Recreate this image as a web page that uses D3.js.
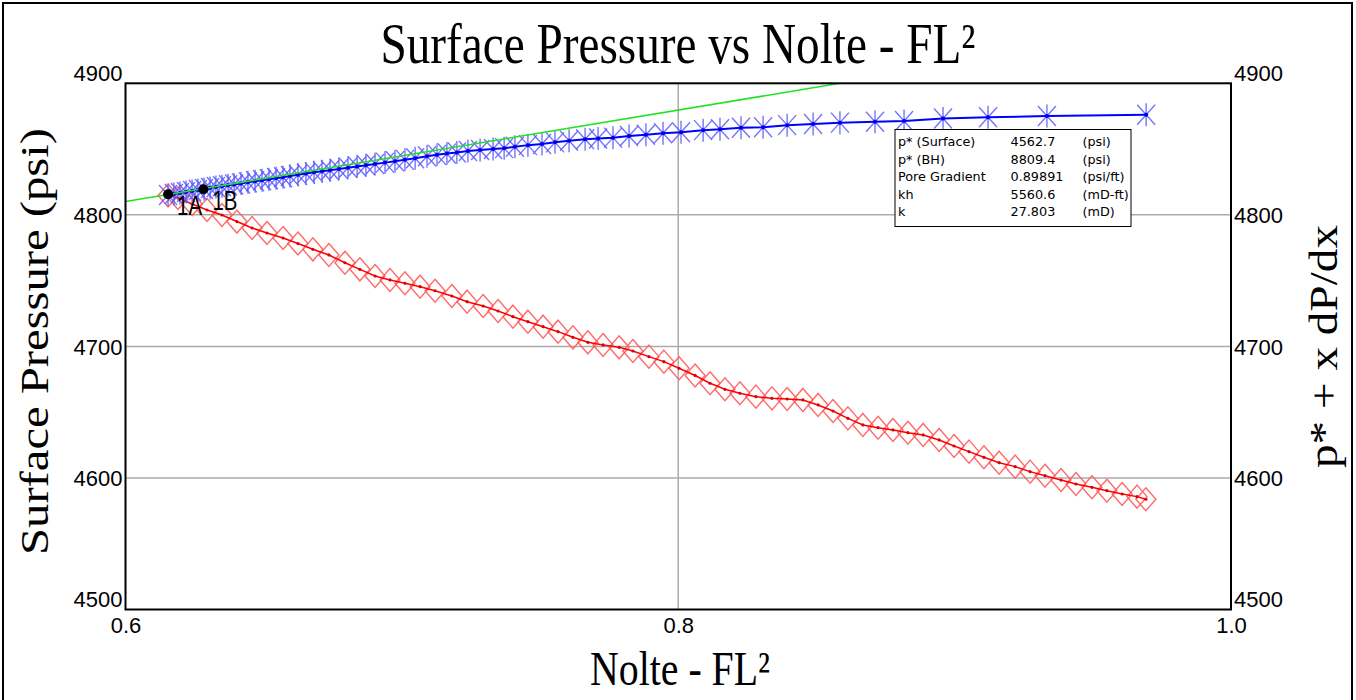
<!DOCTYPE html>
<html><head><meta charset="utf-8">
<script src="https://cdn.jsdelivr.net/npm/d3@7"></script>
<style>
html,body{margin:0;padding:0;background:#fff;}
svg{display:block;}
</style></head>
<body>
<svg id="chart" width="1356" height="700"></svg>
<script>
// ---- data ----
const xTicks = [0.6, 0.8, 1.0];
const xTickLabels = ["0.6", "0.8", "1.0"];
const yTicks = [4500, 4600, 4700, 4800, 4900];
const yTickLabels = ["4500", "4600", "4700", "4800", "4900"];
const gridX = [0.8];
const gridY = [4600, 4700, 4800];

// Surface pressure vs Nolte FL^2 (red diamonds, left axis)
const surfX = [0.6154,0.6190,0.6241,0.6295,0.6349,0.6403,0.6458,0.6512,0.6570,0.6624,0.6678,0.6736,0.6794,0.6848,0.6903,0.6957,0.7011,0.7066,0.7120,0.7181,0.7236,0.7294,0.7348,0.7402,0.7456,0.7511,0.7565,0.7619,0.7673,0.7728,0.7786,0.7836,0.7894,0.7948,0.8003,0.8061,0.8115,0.8169,0.8223,0.8281,0.8339,0.8394,0.8451,0.8506,0.8560,0.8614,0.8668,0.8723,0.8777,0.8831,0.8886,0.8944,0.8998,0.9052,0.9106,0.9161,0.9219,0.9273,0.9327,0.9385,0.9439,0.9497,0.9551,0.9606,0.9660,0.9692];
const surfP = [4814.7,4812.8,4808.2,4803.7,4799.9,4794.9,4790.0,4786.2,4782.4,4778.2,4773.8,4769.5,4763.6,4758.6,4753.5,4750.5,4748.0,4745.4,4742.3,4738.3,4734.0,4730.7,4726.9,4722.6,4718.8,4715.0,4711.2,4706.9,4703.1,4701.1,4699.3,4696.5,4692.2,4688.4,4683.4,4677.9,4672.0,4667.4,4664.4,4661.8,4660.5,4660.0,4659.3,4655.5,4650.9,4645.3,4640.3,4638.2,4636.5,4634.4,4632.7,4628.9,4624.3,4620.0,4615.7,4611.6,4608.6,4604.8,4601.7,4598.4,4595.4,4592.9,4590.3,4587.8,4585.8,4583.8];

// p* + x dP/dx (blue stars, right axis)
const derivX = [0.6154,0.6175,0.6197,0.6219,0.6241,0.6262,0.6284,0.6306,0.6327,0.6349,0.6371,0.6393,0.6418,0.6443,0.6469,0.6494,0.6519,0.6545,0.6570,0.6595,0.6624,0.6653,0.6682,0.6711,0.6740,0.6772,0.6805,0.6838,0.6870,0.6903,0.6939,0.6975,0.7011,0.7048,0.7091,0.7127,0.7163,0.7199,0.7239,0.7283,0.7330,0.7370,0.7409,0.7456,0.7507,0.7554,0.7605,0.7663,0.7710,0.7764,0.7822,0.7883,0.7945,0.8010,0.8090,0.8151,0.8227,0.8307,0.8394,0.8488,0.8585,0.8712,0.8817,0.8958,0.9121,0.9334,0.9693];
const derivP = [4815.1,4815.9,4816.6,4817.4,4818.1,4818.9,4819.7,4820.4,4821.2,4821.8,4822.5,4823.1,4823.9,4824.7,4825.6,4826.3,4827.1,4827.9,4828.6,4829.5,4830.4,4831.4,4832.3,4833.1,4833.9,4834.9,4835.8,4836.7,4837.7,4838.7,4839.7,4840.8,4841.8,4843.0,4844.6,4845.6,4846.7,4847.4,4848.5,4849.3,4850.1,4850.7,4851.7,4853.0,4853.9,4855.1,4856.3,4857.4,4858.0,4858.7,4859.9,4860.9,4862.0,4862.8,4864.4,4865.0,4866.2,4866.6,4868.2,4869.1,4870.1,4870.8,4871.3,4873.2,4874.2,4875.1,4876.1];

// straight-line fit (green)
const fitX = [0.6, 0.8585];
const fitP = [4810.1, 4900];

// selected points
const pointNames = ["1A", "1B"];
const pointX = [0.6154, 0.6282];
const pointP = [4815.6, 4819.4];

// results box
const resLabels = ["p* (Surface)", "p* (BH)", "Pore Gradient", "kh", "k"];
const resValues = ["4562.7", "8809.4", "0.89891", "5560.6", "27.803"];
const resUnits = ["(psi)", "(psi)", "(psi/ft)", "(mD-ft)", "(mD)"];

// ---- layout ----
const svg = d3.select("#chart");
const L = 125.5, R = 1231, T = 83.3, B = 609.5;
const x = d3.scaleLinear().domain([0.6, 1.0]).range([L, R]);
const y = d3.scaleLinear().domain([4500, 4900]).range([B, T]);
const y2 = d3.scaleLinear().domain([4500, 4900]).range([B, T]);

// outer border
svg.append("path").attr("d", "M3,705 L3,3 L1352,3 L1352,705")
  .attr("fill", "none").attr("stroke", "#000").attr("stroke-width", 2);

// clip
svg.append("clipPath").attr("id", "clip").append("rect")
  .attr("x", L).attr("y", T).attr("width", R - L).attr("height", B - T);

// grid
const g = svg.append("g");
g.selectAll(".gx").data(gridX).enter().append("line")
  .attr("x1", d => x(d)).attr("x2", d => x(d)).attr("y1", T).attr("y2", B)
  .attr("stroke", "#ababab").attr("stroke-width", 1.5);
g.selectAll(".gy").data(gridY).enter().append("line")
  .attr("x1", L).attr("x2", R).attr("y1", d => y(d)).attr("y2", d => y(d))
  .attr("stroke", "#ababab").attr("stroke-width", 1.5);

const plot = svg.append("g").attr("clip-path", "url(#clip)");

// red series
const surf = surfX.map((v, i) => [v, surfP[i]]);
plot.selectAll(".dia").data(surf).enter().append("path")
  .attr("d", d => {
    const cx = x(d[0]), cy = y(d[1]);
    return `M${cx},${cy - 11.5}L${cx + 10},${cy}L${cx},${cy + 11.5}L${cx - 10},${cy}Z`;
  })
  .attr("fill", "none").attr("stroke", "#ff5a5a").attr("stroke-width", 1.4).attr("stroke-opacity", 0.9);
plot.append("path").datum(surf)
  .attr("d", d3.line().x(d => x(d[0])).y(d => y(d[1])))
  .attr("fill", "none").attr("stroke", "#ff0000").attr("stroke-width", 1.5);
plot.selectAll(".rdot").data(surf).enter().append("circle")
  .attr("cx", d => x(d[0])).attr("cy", d => y(d[1])).attr("r", 1.6).attr("fill", "#e00000");

// blue series
const deriv = derivX.map((v, i) => [v, derivP[i]]);
plot.selectAll(".star").data(deriv).enter().append("path")
  .attr("d", d => {
    const cx = x(d[0]), cy = y2(d[1]);
    return `M${cx},${cy - 11.5}L${cx},${cy + 11.5}` +
           `M${cx - 9},${cy - 10}L${cx + 9},${cy + 10}` +
           `M${cx - 9},${cy + 10}L${cx + 9},${cy - 10}`;
  })
  .attr("fill", "none").attr("stroke", "#5c5cff").attr("stroke-width", 1.4).attr("stroke-opacity", 0.85);
plot.append("path").datum(deriv)
  .attr("d", d3.line().x(d => x(d[0])).y(d => y2(d[1])))
  .attr("fill", "none").attr("stroke", "#0000ff").attr("stroke-width", 2);
plot.selectAll(".bdot").data(deriv).enter().append("circle")
  .attr("cx", d => x(d[0])).attr("cy", d => y2(d[1])).attr("r", 2).attr("fill", "#0000e0");

// green fit line
const fit = fitX.map((v, i) => [v, fitP[i]]);
plot.append("path").datum(fit)
  .attr("d", d3.line().x(d => x(d[0])).y(d => y(d[1])))
  .attr("fill", "none").attr("stroke", "#22e022").attr("stroke-width", 1.5);

// selected points
const pts = pointX.map((v, i) => ({x: v, p: pointP[i], n: pointNames[i]}));
svg.selectAll(".pt").data(pts).enter().append("circle")
  .attr("cx", d => x(d.x)).attr("cy", d => y(d.p)).attr("r", 5).attr("fill", "#000");
svg.selectAll(".ptl").data(pts).enter().append("text")
  .attr("x", d => x(d.x) + 9).attr("y", d => y(d.p) + 21)
  .attr("font-family", "'Liberation Sans', Arial, sans-serif").attr("font-size", 27)
  .attr("textLength", 25).attr("lengthAdjust", "spacingAndGlyphs")
  .attr("fill", "#000").text(d => d.n);

// frame
svg.append("rect").attr("x", L).attr("y", T).attr("width", R - L).attr("height", B - T)
  .attr("fill", "none").attr("stroke", "#000").attr("stroke-width", 2);

// axes
const tickFont = "'Liberation Sans', Arial, sans-serif";
const axL = svg.append("g").attr("transform", `translate(${L},0)`)
  .call(d3.axisLeft(y).tickValues(yTicks).tickFormat((d, i) => yTickLabels[i]).tickSize(0).tickPadding(3));
const axR = svg.append("g").attr("transform", `translate(${R},0)`)
  .call(d3.axisRight(y2).tickValues(yTicks).tickFormat((d, i) => yTickLabels[i]).tickSize(0).tickPadding(3));
const axB = svg.append("g").attr("transform", `translate(0,${B})`)
  .call(d3.axisBottom(x).tickValues(xTicks).tickFormat((d, i) => xTickLabels[i]).tickSize(0).tickPadding(8));
[axL, axR, axB].forEach(a => {
  a.select(".domain").remove();
  a.selectAll("text").attr("font-family", tickFont).attr("font-size", 22).attr("fill", "#000");
});
[axL, axR].forEach(a => {
  a.selectAll(".tick text").attr("dy", d => (d === 4500 || d === 4900) ? "-0.12em" : "0.36em");
});
axB.selectAll(".tick text").attr("dy", "0.71em");

// titles
const serif = "'Liberation Serif', 'Times New Roman', serif";
svg.append("text").attr("x", 678).attr("y", 63).attr("text-anchor", "middle")
  .attr("font-family", serif).attr("font-size", 58)
  .attr("textLength", 595).attr("lengthAdjust", "spacingAndGlyphs")
  .text("Surface Pressure vs Nolte - FL²");
svg.append("text").attr("x", 680).attr("y", 685).attr("text-anchor", "middle")
  .attr("font-family", serif).attr("font-size", 48)
  .attr("textLength", 180).attr("lengthAdjust", "spacingAndGlyphs")
  .text("Nolte - FL²");
svg.append("text").attr("transform", "translate(48,341.5) scale(0.85,1) rotate(-90)")
  .attr("text-anchor", "middle").attr("font-family", serif).attr("font-size", 48)
  .attr("textLength", 427).attr("lengthAdjust", "spacingAndGlyphs")
  .text("Surface Pressure (psi)");
svg.append("text").attr("transform", "translate(1337,346.5) scale(0.85,1) rotate(-90)")
  .attr("text-anchor", "middle").attr("font-family", serif).attr("font-size", 48)
  .attr("textLength", 243).attr("lengthAdjust", "spacingAndGlyphs")
  .text("p* + x dP/dx");

// results box
const box = svg.append("g");
box.append("rect").attr("x", 895).attr("y", 129.5).attr("width", 236).attr("height", 97)
  .attr("fill", "#fff").attr("stroke", "#000").attr("stroke-width", 1);
const boxFont = "'DejaVu Sans', Verdana, sans-serif";
const rowY = i => 146 + i * 17.5;
box.selectAll(".bl").data(resLabels).enter().append("text")
  .attr("x", 898).attr("y", (d, i) => rowY(i)).attr("font-family", boxFont).attr("font-size", 12.8).text(d => d);
box.selectAll(".bv").data(resValues).enter().append("text")
  .attr("x", 1010.5).attr("y", (d, i) => rowY(i)).attr("font-family", boxFont).attr("font-size", 12.8).text(d => d);
box.selectAll(".bu").data(resUnits).enter().append("text")
  .attr("x", 1082.5).attr("y", (d, i) => rowY(i)).attr("font-family", boxFont).attr("font-size", 12.8).text(d => d);
</script>
</body></html>
